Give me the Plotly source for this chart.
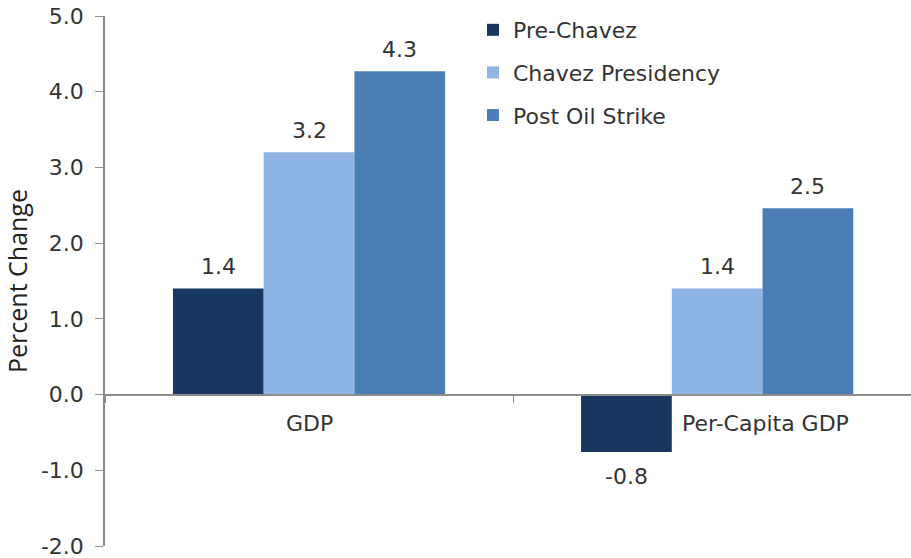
import plotly.graph_objects as go

categories = ["GDP", "Per-Capita GDP"]
series_names = ["Pre-Chavez", "Chavez Presidency", "Post Oil Strike"]
pre_chavez = [1.40, -0.76]
chavez_presidency = [3.20, 1.40]
post_oil_strike = [4.27, 2.46]
series_values = [pre_chavez, chavez_presidency, post_oil_strike]
colors = ["#17375E", "#8DB4E2", "#4A7EB5"]
y_ticks = [5, 4, 3, 2, 1, 0, -1, -2]

W, H = 911, 558
ml, mr, mt, mb = 105, 0, 16, 12
x_range = [-0.5, 1.475]
bargap = 0.333
plot_w = W - ml - mr
plot_h = H - mt - mb
cat_px = plot_w / (x_range[1] - x_range[0])
bar_px = cat_px * (1 - bargap) / len(series_names)

FONT = "DejaVu Sans"
FS = 22
TXT = "#333333"

fig = go.Figure()
for i, (name, vals, col) in enumerate(zip(series_names, series_values, colors)):
    fig.add_trace(go.Bar(
        x=categories, y=vals, name=name, marker=dict(color=col, line=dict(width=0)),
        legendgroup=name,
    ))
    for c, v in zip(categories, vals):
        fig.add_annotation(
            x=c, y=v, xref="x", yref="y", text=f"{v:.1f}", showarrow=False,
            xshift=(i - 1) * bar_px, yshift=22 if v >= 0 else -24,
            yanchor="middle", font=dict(family=FONT, size=FS, color=TXT),
        )

label_shift = [0, 48]
for c, s in zip(categories, label_shift):
    fig.add_annotation(
        x=c, y=0, xref="x", yref="y", text=c, showarrow=False,
        xshift=s, yshift=-29, yanchor="middle",
        font=dict(family=FONT, size=FS, color=TXT),
    )

fig.update_layout(
    width=W, height=H,
    margin=dict(l=ml, r=mr, t=mt, b=mb, autoexpand=False),
    paper_bgcolor="white", plot_bgcolor="white",
    barmode="group", bargap=bargap, bargroupgap=0,
    showlegend=True,
    legend=dict(
        x=(473 - ml) / plot_w, y=1.0 + 7 / plot_h, xanchor="left", yanchor="top",
        font=dict(family=FONT, size=FS, color=TXT),
        tracegroupgap=11, bgcolor="rgba(0,0,0,0)",
    ),
    font=dict(family=FONT, size=FS, color=TXT),
)
fig.update_xaxes(
    type="category", range=x_range, anchor="free", position=2 / 7,
    showline=True, linecolor="#8C8C8C", linewidth=1.5,
    ticks="outside", tickson="boundaries", ticklen=8, tickcolor="#8C8C8C",
    showticklabels=False, showgrid=False, zeroline=False, automargin=False,
)
fig.update_yaxes(
    range=[-2, 5], tickvals=y_ticks, ticktext=[f"{t:.1f}" for t in y_ticks],
    showline=True, linecolor="#8C8C8C", linewidth=1.5,
    ticks="outside", ticklen=8, tickcolor="#8C8C8C", ticklabelstandoff=7,
    ticklabeloverflow="allow",
    showgrid=False, zeroline=False, automargin=False,
    tickfont=dict(family=FONT, size=FS, color=TXT),
    title=dict(text="Percent Change", font=dict(family="Open Sans", size=25, color="#222222"), standoff=18),
)

fig.write_html(
    "out.html",
    config={"displayModeBar": False},
    post_script="document.body.style.margin='0';document.body.style.overflow='hidden';",
)
